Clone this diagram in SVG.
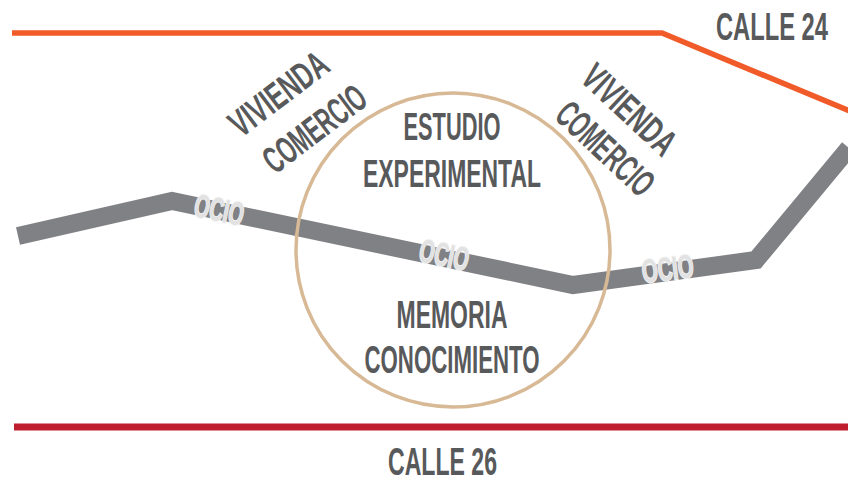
<svg xmlns="http://www.w3.org/2000/svg" width="848" height="478" viewBox="0 0 848 478">
<style>
.t{font-family:"Liberation Sans Narrow","Liberation Sans","DejaVu Sans Condensed",sans-serif;font-weight:bold;fill:#58595b;font-size:38px;text-anchor:middle}
.o{font-family:"Liberation Sans Narrow","Liberation Sans",sans-serif;font-weight:bold;fill:#e2e2e3;stroke:#f4f4f4;stroke-width:2;paint-order:stroke;font-size:33px;text-anchor:middle}
</style>
<rect width="848" height="478" fill="#ffffff"/>
<g id="connectors">
<polyline id="calle24-line" points="12,33 662,33 852,112" fill="none" stroke="#f15a29" stroke-width="5.5"/>
<line id="calle26-line" x1="14" y1="427" x2="852" y2="427" stroke="#be1e2d" stroke-width="7"/>
<polyline id="ocio-path" points="18,236 172,201 573,285 756,260 849,148" fill="none" stroke="#808184" stroke-width="18" stroke-linejoin="miter"/>
</g>
<g id="circle">
<circle cx="453" cy="250" r="157" fill="none" stroke="#d8b996" stroke-width="3.5"/>
</g>
<g id="ocio1"><text class="o" transform="translate(217,221) rotate(11.7)" textLength="50" lengthAdjust="spacingAndGlyphs">OCIO</text></g>
<g id="ocio2"><text class="o" transform="translate(442,266) rotate(11.7)" textLength="50" lengthAdjust="spacingAndGlyphs">OCIO</text></g>
<g id="ocio3"><text class="o" transform="translate(669,280) rotate(-6.9)" textLength="52" lengthAdjust="spacingAndGlyphs">OCIO</text></g>
<g id="estudio">
<text class="t" x="452" y="140" textLength="97" lengthAdjust="spacingAndGlyphs">ESTUDIO</text>
<text class="t" x="452" y="187" textLength="178" lengthAdjust="spacingAndGlyphs">EXPERIMENTAL</text>
</g>
<g id="memoria">
<text class="t" x="452" y="328" textLength="111" lengthAdjust="spacingAndGlyphs">MEMORIA</text>
<text class="t" x="452" y="373" textLength="175" lengthAdjust="spacingAndGlyphs">CONOCIMIENTO</text>
</g>
<g id="vivienda-left">
<text class="t" transform="translate(278,93) rotate(-37) translate(0,14)" textLength="114" lengthAdjust="spacingAndGlyphs">VIVIENDA</text>
<text class="t" transform="translate(314,128) rotate(-37) translate(0,14)" textLength="119" lengthAdjust="spacingAndGlyphs">COMERCIO</text>
</g>
<g id="vivienda-right">
<text class="t" transform="translate(630,109) rotate(43) translate(0,14)" textLength="114" lengthAdjust="spacingAndGlyphs">VIVIENDA</text>
<text class="t" transform="translate(606,148) rotate(43) translate(0,14)" textLength="119" lengthAdjust="spacingAndGlyphs">COMERCIO</text>
</g>
<g id="calle24"><text class="t" x="772" y="40" textLength="112" lengthAdjust="spacingAndGlyphs">CALLE 24</text></g>
<g id="calle26"><text class="t" x="442.5" y="475" textLength="109" lengthAdjust="spacingAndGlyphs">CALLE 26</text></g>
</svg>
